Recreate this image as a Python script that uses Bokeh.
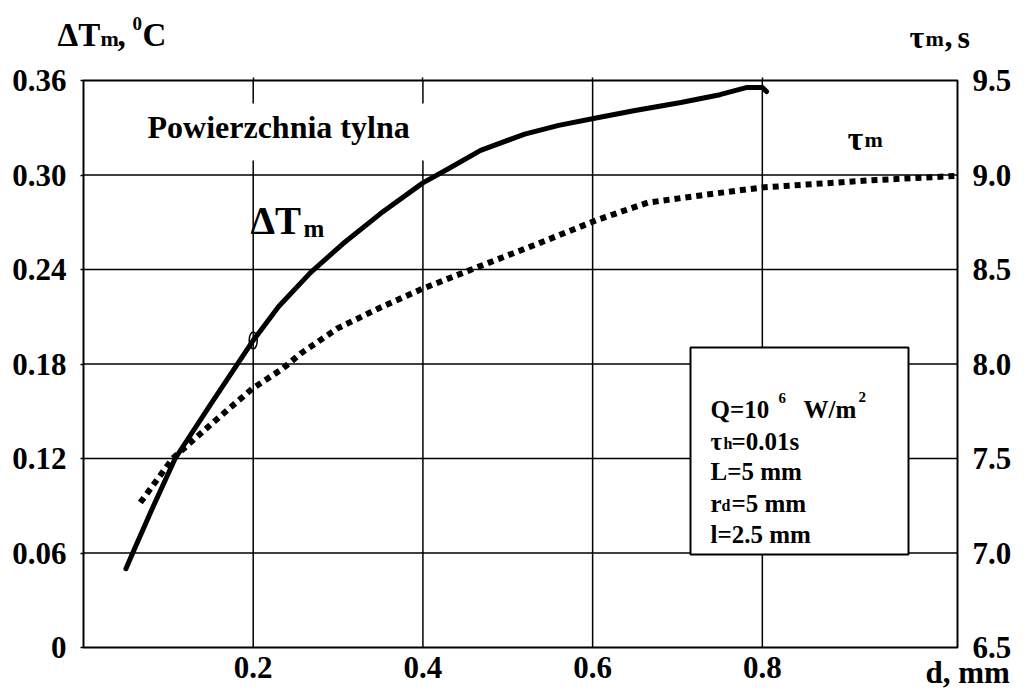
from bokeh.plotting import figure
from bokeh.models import Range1d, LinearAxis, FixedTicker, Label, BoxAnnotation
from bokeh.embed import file_html
from bokeh.resources import INLINE

# Maximum temperature rise on the rear surface vs. defect depth d
d_dT = [0.050, 0.058, 0.080, 0.108, 0.150, 0.179, 0.200, 0.230, 0.2675, 0.306, 0.350,
        0.400, 0.430, 0.468, 0.520, 0.560, 0.607, 0.650, 0.704, 0.750, 0.782, 0.800, 0.805]
dT = [0.050, 0.060, 0.087, 0.120, 0.1545, 0.178, 0.195, 0.2165, 0.238, 0.2565, 0.2755,
      0.295, 0.304, 0.3156, 0.326, 0.3315, 0.3365, 0.341, 0.346, 0.351, 0.3556, 0.3556, 0.353]

# Time of the maximum vs. defect depth d
d_tau = [0.067, 0.105, 0.150, 0.199, 0.235, 0.256, 0.300, 0.350, 0.400, 0.448, 0.530,
         0.607, 0.665, 0.727, 0.800, 0.924, 1.028]
tau = [7.267, 7.500, 7.680, 7.870, 7.976, 8.056, 8.190, 8.299, 8.399, 8.484, 8.627,
       8.765, 8.854, 8.892, 8.934, 8.971, 8.995]

x_ticks = [0.2, 0.4, 0.6, 0.8]
x_tick_labels = ["0.2", "0.4", "0.6", "0.8"]
dT_ticks = [0, 0.06, 0.12, 0.18, 0.24, 0.30, 0.36]
dT_tick_labels = ["0", "0.06", "0.12", "0.18", "0.24", "0.30", "0.36"]
tau_ticks = [6.5, 7.0, 7.5, 8.0, 8.5, 9.0, 9.5]
tau_tick_labels = ["6.5", "7.0", "7.5", "8.0", "8.5", "9.0", "9.5"]

# axis limits of the plotting box
XMAX = 1.03
YMAX = 0.36
TAU_MIN, TAU_MAX = 6.5, 9.5

# canvas and position of the plotting box on it (pixels)
W, H = 1027, 690
BL, BT, BR, BB = 83, 80, 957, 647
XS = XMAX / (BR - BL)
YS = YMAX / (BB - BT)
TS = (TAU_MAX - TAU_MIN) / (BB - BT)
FONT = "Liberation Serif"
BASE_SHIFT = 9


def px(xp):
    """Canvas pixel column -> data x."""
    return (xp - BL) * XS


def py(yp):
    """Canvas pixel row -> data y (left scale)."""
    return (BB - yp) * YS


p = figure(width=W, height=H,
           x_range=Range1d(-BL * XS, XMAX + (W - BR) * XS),
           y_range=Range1d(-(H - BB) * YS, YMAX + BT * YS),
           x_axis_location=None, y_axis_location=None, min_border=0,
           output_backend="svg", toolbar_location=None)
p.extra_y_ranges = {"tau": Range1d(TAU_MIN - (H - BB) * TS, TAU_MAX + BT * TS)}
p.background_fill_color = "white"
p.border_fill_color = "white"
p.outline_line_color = None
p.grid.visible = False


def style_axis(ax, ticks, labels, tick_out, standoff):
    ax.ticker = FixedTicker(ticks=ticks)
    ax.major_label_overrides = dict(zip(ticks, labels))
    ax.axis_line_color = None
    ax.minor_tick_line_color = None
    ax.major_tick_in = 0
    ax.major_tick_out = tick_out
    ax.major_tick_line_color = "black"
    ax.major_tick_line_width = 1.5
    ax.major_label_standoff = standoff
    ax.major_label_text_font = FONT
    ax.major_label_text_font_style = "bold"
    ax.major_label_text_font_size = "31px"
    ax.major_label_text_color = "black"


left = LinearAxis(fixed_location=0)
style_axis(left, dT_ticks, dT_tick_labels, 3, 14)
p.add_layout(left, "left")

right = LinearAxis(y_range_name="tau", fixed_location=XMAX)
style_axis(right, tau_ticks, tau_tick_labels, 0, 15)
p.add_layout(right, "right")

bottom = LinearAxis(fixed_location=0)
style_axis(bottom, x_ticks, x_tick_labels, 0, 9)
p.add_layout(bottom, "below")

top = LinearAxis(fixed_location=YMAX)
style_axis(top, x_ticks, ["", "", "", ""], 3, 0)
top.major_label_text_font_size = "0px"
p.add_layout(top, "above")

# grid lines inside the plotting box
inner_y = dT_ticks[1:-1]
p.segment(x0=x_ticks, y0=[0] * len(x_ticks), x1=x_ticks, y1=[YMAX] * len(x_ticks),
          line_color="black", line_width=1.5)
p.segment(x0=[0] * len(inner_y), y0=inner_y, x1=[XMAX] * len(inner_y), y1=inner_y,
          line_color="black", line_width=1.5)

# curves
p.line(d_dT, dT, line_width=5, line_color="black", line_cap="round", line_join="round")
p.line(d_tau, tau, y_range_name="tau", line_width=6, line_color="black",
       line_dash="6 5", line_cap="butt")

i = d_dT.index(0.200)
p.ellipse(x=[d_dT[i]], y=[dT[i]], width=8, height=17, width_units="screen",
          height_units="screen", fill_color=None, line_color="black", line_width=1.5)


def white_box(x0, y0, x1, y1, border):
    p.add_layout(BoxAnnotation(left=px(x0), right=px(x1), top=py(y0), bottom=py(y1),
                               fill_color="white", fill_alpha=1.0,
                               line_color="black" if border else None,
                               line_width=2, line_alpha=1.0))


def label(text, xp, yp, size):
    p.add_layout(Label(x=px(xp), y=py(yp - BASE_SHIFT), text=text, text_font=FONT,
                       text_font_style="bold", text_font_size=f"{size}px",
                       text_color="black", text_baseline="alphabetic",
                       text_align="left"))


# frame of the plotting box
p.add_layout(BoxAnnotation(left=0, right=XMAX, bottom=0, top=YMAX, fill_color=None,
                           fill_alpha=0, line_color="black", line_width=2, line_alpha=1.0))

# axis titles
label("ΔT", 57, 43, 33)
label("m", 100, 47, 22)
label(",", 117, 43, 33)
label("0", 132, 32, 19)
label("C", 142, 43, 33)

label("τ", 909, 45, 32)
label("m", 925, 47, 22)
label(",", 944, 45, 32)
label("s", 957, 45, 32)

label("d, mm", 925, 681, 31)

# curve names
white_box(135, 103, 434, 160, False)
label("Powierzchnia tylna", 147, 135, 32)
label("ΔT", 250, 229, 39)
label("m", 303, 237, 25)
label("τ", 847, 147, 34)
label("m", 864, 148, 22)

# parameters
white_box(690, 347, 908, 554, True)
label("Q=10", 710, 418, 25)
label("6", 778, 406, 15)
label("W/m", 803, 418, 25)
label("2", 858, 405, 15)
label("τ", 710, 450, 25)
label("h", 723, 452, 16)
label("=0.01s", 731, 450, 25)
label("L=5 mm", 710, 480, 25)
label("r", 710, 512, 25)
label("d", 721, 514, 16)
label("=5 mm", 731, 512, 25)
label("l=2.5 mm", 710, 543, 25)

open("out.html", "w").write(file_html(p, INLINE))
